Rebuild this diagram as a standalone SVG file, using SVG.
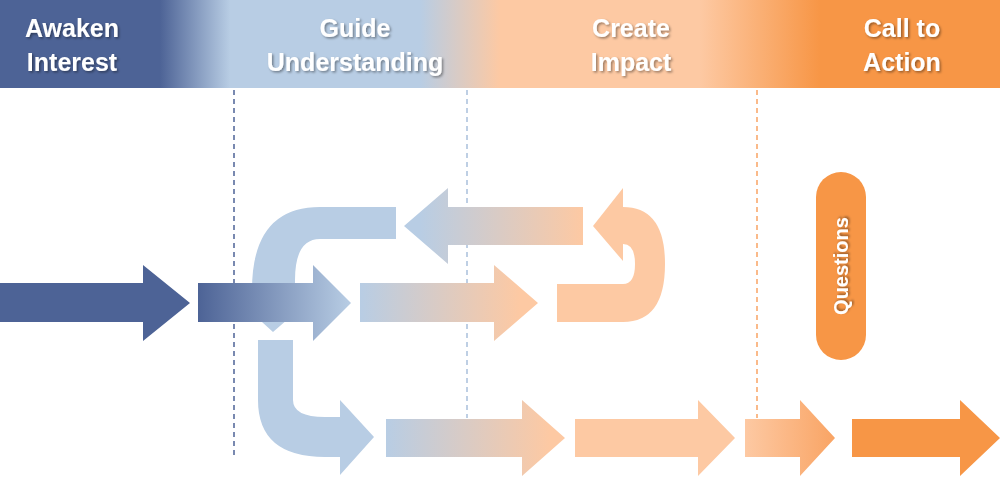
<svg xmlns="http://www.w3.org/2000/svg" width="1000" height="477" viewBox="0 0 1000 477">
<defs>
<linearGradient id="hdr" x1="0" x2="1000" gradientUnits="userSpaceOnUse">
<stop offset="0.16" stop-color="#4d6396"/><stop offset="0.23" stop-color="#b8cde4"/><stop offset="0.42" stop-color="#b8cde4"/><stop offset="0.5" stop-color="#fdc9a3"/><stop offset="0.7" stop-color="#fdc9a3"/><stop offset="0.82" stop-color="#f79646"/></linearGradient>
<linearGradient id="g1" x1="198" x2="351" gradientUnits="userSpaceOnUse"><stop offset="0" stop-color="#4d6396"/><stop offset="1" stop-color="#b8cde4"/></linearGradient>
<linearGradient id="g2" x1="360" x2="520" gradientUnits="userSpaceOnUse"><stop offset="0" stop-color="#b8cde4"/><stop offset="1" stop-color="#fdc9a3"/></linearGradient>
<linearGradient id="g3" x1="420" x2="583" gradientUnits="userSpaceOnUse"><stop offset="0" stop-color="#b8cde4"/><stop offset="1" stop-color="#fdc9a3"/></linearGradient>
<linearGradient id="g4" x1="386" x2="550" gradientUnits="userSpaceOnUse"><stop offset="0" stop-color="#b8cde4"/><stop offset="1" stop-color="#fdc9a3"/></linearGradient>
<linearGradient id="g5" x1="745" x2="835" gradientUnits="userSpaceOnUse"><stop offset="0" stop-color="#fdc9a3"/><stop offset="1" stop-color="#f9a464"/></linearGradient>
<filter id="sh"><feDropShadow dx="1.5" dy="1.5" stdDeviation="1" flood-color="#000" flood-opacity="0.4"/></filter>
</defs>
<style>
.h{font-family:"Liberation Sans",Arial,sans-serif;font-weight:bold;font-size:25px;fill:#fff;text-anchor:middle;filter:url(#sh)}
.d{fill:none;stroke-width:1.5;stroke-dasharray:5,4}
</style>
<g id="header">
<rect x="0" y="0" width="1000" height="88" fill="url(#hdr)"/>
<text class="h" x="72" y="37">Awaken</text><text class="h" x="72" y="71">Interest</text>
<text class="h" x="355" y="37">Guide</text><text class="h" x="355" y="71">Understanding</text>
<text class="h" x="631" y="37">Create</text><text class="h" x="631" y="71">Impact</text>
<text class="h" x="902" y="37">Call to</text><text class="h" x="902" y="71">Action</text>
</g>
<g id="dividers">
<line class="d" x1="234" y1="90" x2="234" y2="455" stroke="#4d6396"/>
<line class="d" x1="467" y1="90" x2="467" y2="418" stroke="#a9c0dc"/>
<line class="d" x1="757" y1="90" x2="757" y2="418" stroke="#f9a464"/>
</g>
<g id="connectors">
<path d="M396 207 H320 Q252 207 252 290 V300 H238 L273 332 L310 300 H295 V280 Q295 239 320 239 H396 Z" fill="#b8cde4"/>
<path d="M0 283 H143 V265 L190 303 L143 341 V322 H0 Z" fill="#4d6396"/>
<path d="M198 283 H313 V265 L351 303 L313 341 V322 H198 Z" fill="url(#g1)"/>
<path d="M360 283 H494 V265 L538 303 L494 341 V322 H360 Z" fill="url(#g2)"/>
<path d="M583 207 H448 V188 L404 226 L448 264 V245 H583 Z" fill="url(#g3)"/>
<path d="M557 322 H623 Q665 322 665 264 Q665 207 623 207 V188 L593 226 L623 261 V244 Q635 244 635 264 Q635 284 623 284 H557 Z" fill="#fdc9a3"/>
<path d="M258 340 H293 V400 Q293 417 325 417 H340 V400 L374 437 L340 475 V457 H325 Q258 457 258 400 Z" fill="#b8cde4"/>
<path d="M386 419 H522 V400 L565 438 L522 476 V457 H386 Z" fill="url(#g4)"/>
<path d="M575 419 H698 V400 L735 438 L698 476 V457 H575 Z" fill="#fdc9a3"/>
<path d="M745 419 H800 V400 L835 438 L800 476 V457 H745 Z" fill="url(#g5)"/>
<path d="M852 419 H960 V400 L1000 438 L960 476 V457 H852 Z" fill="#f79646"/>
</g>
<g id="questions">
<rect x="816" y="172" width="50" height="188" rx="25" fill="#f79646"/>
<text x="841" y="266" transform="rotate(-90 841 266)" dy="7" font-family="'Liberation Sans',Arial,sans-serif" font-weight="bold" font-size="20" fill="#fff" text-anchor="middle" filter="url(#sh)">Questions</text>
</g>
</svg>
